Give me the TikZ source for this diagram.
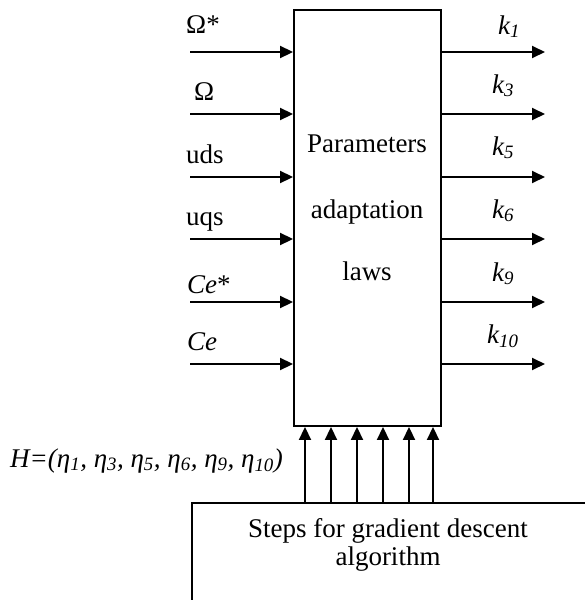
\documentclass[tikz,border=0pt]{standalone}
\usepackage{fontspec}
\setmainfont{Liberation Serif}
\usetikzlibrary{arrows.meta}
\begin{document}
\begin{tikzpicture}[x=1pt,y=-1pt,
  every node/.style={font=\fontsize{27}{30}\selectfont, inner sep=0pt},
  arr/.style={line width=1.9pt,-{Triangle[length=13pt,width=12pt]}},
  box/.style={draw,line width=1.9pt,rectangle},
  lbl/.style={anchor=base west}]
\useasboundingbox (0,0) rectangle (584,600);
% main block
\node[box, minimum width=147pt, minimum height=416pt] (main) at (367.5,218) {};
\node[anchor=base] (t1) at (367,152) {Parameters};
\node[anchor=base] (t2) at (367,218) {adaptation};
\node[anchor=base] (t3) at (367,280) {laws};
% bottom block
\node[box, anchor=north west, minimum width=500pt, minimum height=200pt] (steps) at (191,502) {};
\node[anchor=base] (s1) at (388,537) {Steps for gradient descent};
\node[anchor=base] (s2) at (388,565) {algorithm};
% inputs and outputs
\foreach \n/\y in {1/52,2/114,3/177,4/239,5/302,6/364}{
  \coordinate (i\n) at (190,\y);
  \draw[arr] (i\n) -- (i\n -| main.west);
  \coordinate (o\n) at (545,\y);
  \draw[arr] (o\n -| main.east) -- (o\n);
}
\node[lbl] (l1) at (186,33) {Ω*};
\node[lbl] (l2) at (194,100) {Ω};
\node[lbl] (l3) at (186,163) {uds};
\node[lbl] (l4) at (186,225) {uqs};
\node[lbl] (l5) at (187,293) {\textit{Ce}*};
\node[lbl] (l6) at (187,350) {\textit{Ce}};
% output labels
\node[lbl] (r1) at (498,34) {\textit{k\textsubscript{1}}};
\node[lbl] (r2) at (492,93) {\textit{k\textsubscript{3}}};
\node[lbl] (r3) at (492,155) {\textit{k\textsubscript{5}}};
\node[lbl] (r4) at (492,218) {\textit{k\textsubscript{6}}};
\node[lbl] (r5) at (492,281) {\textit{k\textsubscript{9}}};
\node[lbl] (r6) at (487,343) {\textit{k\textsubscript{10}}};
% bottom arrows
\foreach \n/\x in {1/305,2/331,3/357,4/383,5/409,6/433}{
  \draw[arr] (steps.north west -| \x,0) -- (main.south west -| \x,0);
}
\node[lbl] (h) at (10,467) {\textit{H=(η\textsubscript{1}, η\textsubscript{3}, η\textsubscript{5}, η\textsubscript{6}, η\textsubscript{9}, η\textsubscript{10})}};
\end{tikzpicture}
\end{document}
